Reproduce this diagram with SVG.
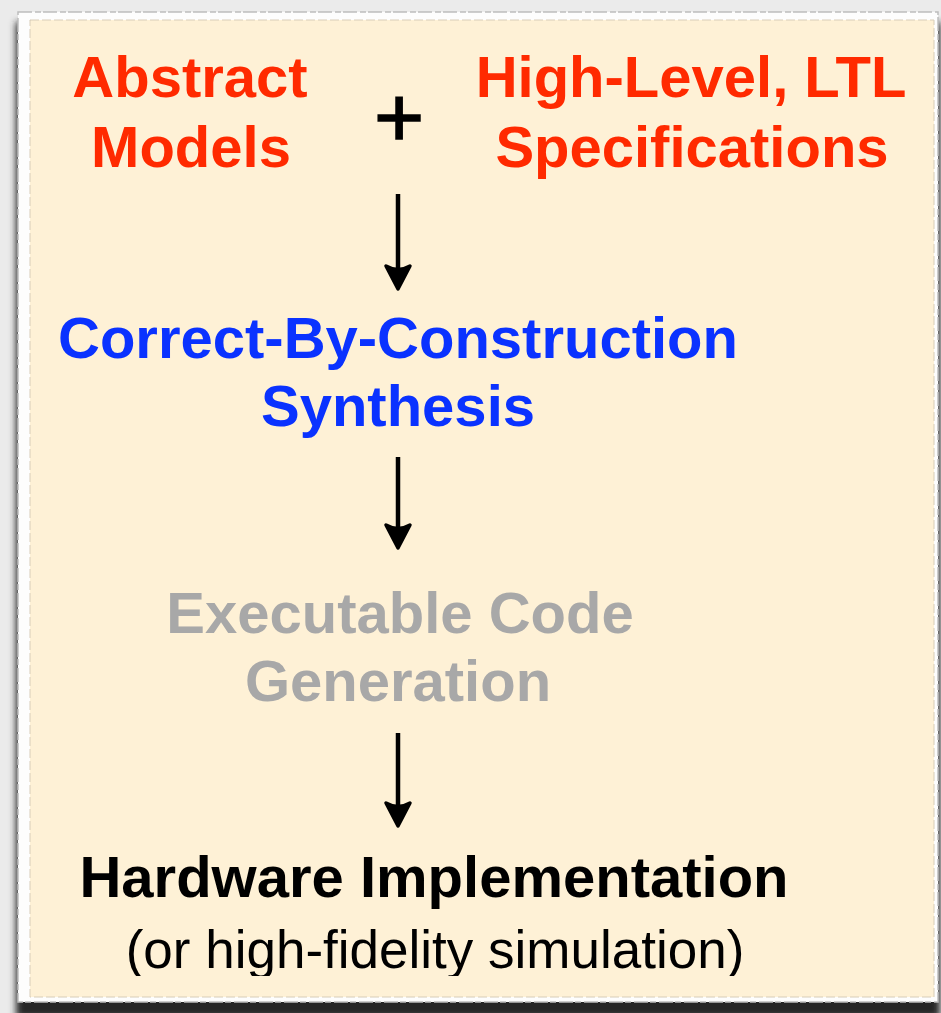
<svg xmlns="http://www.w3.org/2000/svg" width="941" height="1013" viewBox="0 0 941 1013">
  <style>
    .t { font-family: "Liberation Sans", Arial, sans-serif; text-anchor: middle; }
    .b { font-weight: bold; font-size: 58px; }
    .red { fill: #ff2a00; }
    .blue { fill: #0a32ff; }
    .grey { fill: #a8a8a8; }
    .blk { fill: #000; }
    .conn { stroke: #000; stroke-width: 4.5; fill: none; marker-end: url(#head); }
  </style>
  <defs>
    <!-- swept arrowhead; tip sits 10px beyond the end of the line -->
    <marker id="head" markerUnits="userSpaceOnUse" viewBox="-18 -18 34 36" refX="0" refY="0" markerWidth="34" markerHeight="36" orient="auto">
      <path d="M10,0 L-13,-12 Q-6,0 -13,12 Z" fill="#000" stroke="#000" stroke-width="3.5" stroke-linejoin="round"/>
    </marker>
    <filter id="soft" x="-5%" y="-5%" width="110%" height="110%">
      <feGaussianBlur stdDeviation="3.5"/>
    </filter>
    <clipPath id="panelClip">
      <rect x="30" y="20" width="904" height="956"/>
    </clipPath>
  </defs>

  <!-- page background -->
  <rect x="0" y="0" width="941" height="1013" fill="#ebebeb"/>

  <!-- card: shadow, white border, paper -->
  <rect x="16" y="22" width="924" height="996" fill="#262626" filter="url(#soft)"/>
  <rect x="18" y="12" width="920" height="990" fill="#fdfdfd" stroke="#bdbdbd" stroke-width="1.5" stroke-dasharray="14 3 6 2"/>
  <rect x="30" y="20" width="904" height="977" fill="#fef1d6" stroke="#d8cdb8" stroke-width="1" stroke-dasharray="9 3"/>

  <g clip-path="url(#panelClip)">
    <g id="abstract-models">
      <text class="t b red" x="190" y="97">Abstract</text>
      <text class="t b red" x="191" y="167">Models</text>
    </g>
    <g id="plus">
      <text class="t blk" x="399" y="147" font-size="86" stroke="#000" stroke-width="1.5">+</text>
    </g>
    <g id="ltl-specs">
      <text class="t b red" x="691" y="97">High-Level, LTL</text>
      <text class="t b red" x="692" y="167">Specifications</text>
    </g>
    <g id="synthesis">
      <text class="t b blue" x="398" y="358">Correct-By-Construction</text>
      <text class="t b blue" x="398" y="426">Synthesis</text>
    </g>
    <g id="codegen">
      <text class="t b grey" x="400" y="633">Executable Code</text>
      <text class="t b grey" x="398" y="701">Generation</text>
    </g>
    <g id="hardware">
      <text class="t b blk" x="434" y="897">Hardware Implementation</text>
      <text class="t blk" x="435" y="968" font-size="53">(or high-fidelity simulation)</text>
    </g>

    <g id="connectors">
      <line class="conn" x1="398" y1="194" x2="398" y2="279"/>
      <line class="conn" x1="398" y1="457" x2="398" y2="538"/>
      <line class="conn" x1="398" y1="733" x2="398" y2="816"/>
    </g>
  </g>
</svg>
